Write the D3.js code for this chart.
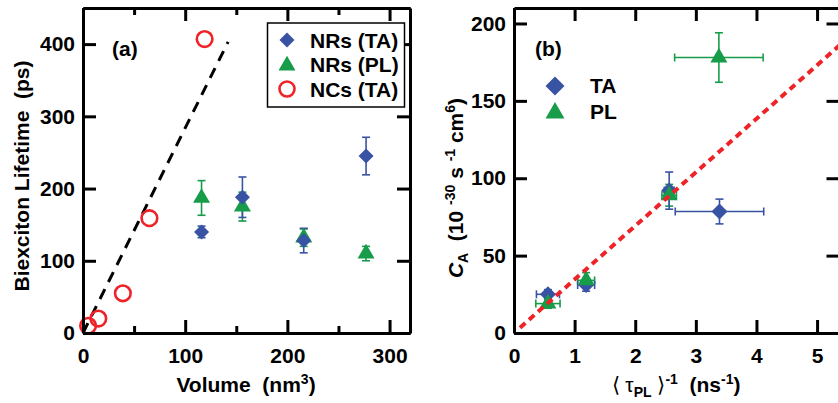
<!DOCTYPE html>
<html>
<head>
<meta charset="utf-8">
<script src="https://cdn.jsdelivr.net/npm/d3@7"></script>
<style>
  body { margin: 0; background: #fff; }
  text { font-family: "Liberation Sans", Arial, Helvetica, sans-serif; font-weight: bold; fill: #000; }
</style>
</head>
<body>
<svg id="chart" width="838" height="403"></svg>
<script>
// ---- Panel (a): biexciton lifetime vs. volume ----
const nrVolume = [116, 156, 216, 277];
const nrTaLifetime = [140, 188, 128, 245];
const nrTaError = [8, 28, 17, 26];
const nrPlLifetime = [187, 175, 132, 110];
const nrPlError = [24, 20, 12, 10];
const ncVolume = [5, 15, 39, 65, 119];
const ncLifetime = [10, 20, 55, 159, 407];
const volumeFit = [0, 142];
const lifetimeFit = [0, 403];
const volumeTicks = [0, 100, 200, 300];
const volumeMinorTicks = [50, 150, 250];
const lifetimeTicks = [0, 100, 200, 300, 400];
const legendA = ["NRs (TA)", "NRs (PL)", "NCs (TA)"];

// ---- Panel (b): Auger constant vs. inverse PL lifetime ----
const taRate = [0.56, 1.19, 2.56, 3.39];
const taRateError = [0.19, 0.14, 0.08, 0.73];
const taCa = [25, 31, 92, 78.5];
const taCaError = [3, 4, 12, 8];
const plRate = [0.56, 1.19, 2.56, 3.38];
const plRateError = [0.2, 0.14, 0.12, 0.73];
const plCa = [19, 34, 89, 178];
const plCaError = [3, 5, 7, 16];
const rateFit = [0.1, 5.6];
const caFit = [3.46, 193.8];
const rateTicks = [0, 1, 2, 3, 4, 5];
const caTicks = [0, 50, 100, 150, 200];
const legendB = ["TA", "PL"];

const BLUE = "#3953a4", GREEN = "#179c4a", RED = "#ee2227";
const svg = d3.select("#chart");

function diamondPath(r) { return `M0,${-r}L${r},0L0,${r}L${-r},0Z`; }
function trianglePath(w) {
  const h = w * Math.sqrt(3) / 2;
  return `M0,${-2 * h / 3}L${w / 2},${h / 3}L${-w / 2},${h / 3}Z`;
}

function frame(g, x, y, opts) {
  const [x0, x1] = x.range(), [y0, y1] = y.range();
  const styleAxis = sel => {
    sel.select(".domain").attr("stroke", "#000").attr("stroke-width", 3);
    sel.selectAll(".tick line").attr("stroke", "#000").attr("stroke-width", 3);
    sel.selectAll(".tick text").style("font-size", "21px").attr("fill", "#000");
  };
  g.append("g").attr("transform", `translate(0,${y0})`)
    .call(d3.axisBottom(x).tickValues(opts.xTicks).tickSize(-13).tickSizeOuter(0).tickPadding(15).tickFormat(d3.format("d")))
    .call(styleAxis);
  g.append("g").attr("transform", `translate(0,${y1})`)
    .call(d3.axisTop(x).tickValues(opts.xTicks).tickSize(-13).tickSizeOuter(0).tickFormat(""))
    .call(styleAxis);
  if (opts.xMinor) {
    [y0, y1].forEach((yy, i) => {
      g.append("g").attr("transform", `translate(0,${yy})`)
        .call((i ? d3.axisTop(x) : d3.axisBottom(x)).tickValues(opts.xMinor).tickSize(-7).tickSizeOuter(0).tickFormat(""))
        .call(styleAxis);
    });
  }
  g.append("g").attr("transform", `translate(${x0},0)`)
    .call(d3.axisLeft(y).tickValues(opts.yTicks).tickSize(-13).tickSizeOuter(0).tickPadding(8).tickFormat(d3.format("d")))
    .call(styleAxis);
  g.append("g").attr("transform", `translate(${x1},0)`)
    .call(d3.axisRight(y).tickValues(opts.yTicks).tickSize(-13).tickSizeOuter(0).tickFormat(""))
    .call(styleAxis);
}

function vErrors(g, xs, ys, es, x, y, color) {
  xs.forEach((v, i) => {
    const cx = x(v), ya = y(ys[i] - es[i]), yb = y(ys[i] + es[i]);
    g.append("line").attr("x1", cx).attr("x2", cx).attr("y1", ya).attr("y2", yb);
    g.append("line").attr("x1", cx - 4).attr("x2", cx + 4).attr("y1", ya).attr("y2", ya);
    g.append("line").attr("x1", cx - 4).attr("x2", cx + 4).attr("y1", yb).attr("y2", yb);
  });
  g.attr("stroke", color).attr("stroke-width", 1.6);
}
function hErrors(g, xs, ys, es, x, y, color) {
  xs.forEach((v, i) => {
    const cy = y(ys[i]), xa = x(v - es[i]), xb = x(v + es[i]);
    g.append("line").attr("x1", xa).attr("x2", xb).attr("y1", cy).attr("y2", cy);
    g.append("line").attr("x1", xa).attr("x2", xa).attr("y1", cy - 4).attr("y2", cy + 4);
    g.append("line").attr("x1", xb).attr("x2", xb).attr("y1", cy - 4).attr("y2", cy + 4);
  });
  g.attr("stroke", color).attr("stroke-width", 1.6);
}

// ===================== Panel (a) =====================
const xA = d3.scaleLinear().domain([0, 320]).range([83, 410]);
const yA = d3.scaleLinear().domain([0, 450]).range([333, 8]);
const gA = svg.append("g");

// dashed guide through the nanocrystal points
gA.append("path")
  .attr("d", d3.line()(volumeFit.map((v, i) => [xA(v), yA(lifetimeFit[i])])))
  .attr("stroke", "#000").attr("stroke-width", 3).attr("stroke-dasharray", "11,8").attr("fill", "none");

vErrors(gA.append("g"), nrVolume, nrPlLifetime, nrPlError, xA, yA, GREEN);
vErrors(gA.append("g"), nrVolume, nrTaLifetime, nrTaError, xA, yA, BLUE);

gA.append("g").selectAll("path").data(nrVolume).join("path")
  .attr("d", trianglePath(17))
  .attr("transform", (d, i) => `translate(${xA(d)},${yA(nrPlLifetime[i])})`)
  .attr("fill", GREEN);
gA.append("g").selectAll("path").data(nrVolume).join("path")
  .attr("d", diamondPath(7.5))
  .attr("transform", (d, i) => `translate(${xA(d)},${yA(nrTaLifetime[i])})`)
  .attr("fill", BLUE);
gA.append("g").selectAll("circle").data(ncVolume).join("circle")
  .attr("cx", d => xA(d)).attr("cy", (d, i) => yA(ncLifetime[i]))
  .attr("r", 7.8).attr("fill", "none").attr("stroke", RED).attr("stroke-width", 2.6);

frame(gA, xA, yA, { xTicks: volumeTicks, xMinor: volumeMinorTicks, yTicks: lifetimeTicks });

gA.append("text").attr("x", 112).attr("y", 56).style("font-size", "21px").text("(a)");

// legend
const legA = gA.append("g");
legA.append("rect").attr("x", 267.5).attr("y", 23).attr("width", 137).attr("height", 84)
  .attr("fill", "#fff").attr("stroke", "#000").attr("stroke-width", 1.5);
const legRows = [40, 64.5, 89];
legA.append("path").attr("d", diamondPath(7.5)).attr("transform", `translate(287,${legRows[0]})`).attr("fill", BLUE);
legA.append("path").attr("d", trianglePath(17)).attr("transform", `translate(287,${legRows[1] + 1})`).attr("fill", GREEN);
legA.append("circle").attr("cx", 287).attr("cy", legRows[2]).attr("r", 7.5)
  .attr("fill", "none").attr("stroke", RED).attr("stroke-width", 2.6);
legendA.forEach((t, i) => {
  legA.append("text").attr("x", 310).attr("y", legRows[i] + 7.5).style("font-size", "21px").text(t);
});

// axis titles
gA.append("text").attr("transform", "translate(29,176) rotate(-90)").attr("text-anchor", "middle")
  .style("font-size", "21px").style("white-space", "pre").text("Biexciton Lifetime  (ps)");
const tA = gA.append("text").attr("x", 246).attr("y", 392).attr("text-anchor", "middle")
  .style("font-size", "21px").style("white-space", "pre");
tA.append("tspan").text("Volume  (nm");
tA.append("tspan").attr("dy", -8).style("font-size", "14px").text("3");
tA.append("tspan").attr("dy", 8).text(")");

// ===================== Panel (b) =====================
const xB = d3.scaleLinear().domain([0, 5.37]).range([514, 839.5]);
const yB = d3.scaleLinear().domain([0, 210]).range([333, 8]);
const gB = svg.append("g");

svg.append("defs").append("clipPath").attr("id", "clipB")
  .append("rect").attr("x", 514).attr("y", 8).attr("width", 326).attr("height", 325);

hErrors(gB.append("g"), plRate, plCa, plRateError, xB, yB, GREEN);
vErrors(gB.append("g"), plRate, plCa, plCaError, xB, yB, GREEN);
hErrors(gB.append("g"), taRate, taCa, taRateError, xB, yB, BLUE);
vErrors(gB.append("g"), taRate, taCa, taCaError, xB, yB, BLUE);

gB.append("g").selectAll("path").data(taRate).join("path")
  .attr("d", diamondPath(8))
  .attr("transform", (d, i) => `translate(${xB(d)},${yB(taCa[i])})`)
  .attr("fill", BLUE);
gB.append("g").selectAll("path").data(plRate).join("path")
  .attr("d", trianglePath(17))
  .attr("transform", (d, i) => `translate(${xB(d)},${yB(plCa[i])})`)
  .attr("fill", GREEN);

// linear fit
gB.append("path").attr("clip-path", "url(#clipB)")
  .attr("d", d3.line()(rateFit.map((v, i) => [xB(v), yB(caFit[i])])))
  .attr("stroke", RED).attr("stroke-width", 4).attr("stroke-dasharray", "7,5").attr("fill", "none");

frame(gB, xB, yB, { xTicks: rateTicks, yTicks: caTicks });

gB.append("text").attr("x", 535).attr("y", 56).style("font-size", "21px").text("(b)");

// legend
gB.append("path").attr("d", diamondPath(9.5)).attr("transform", "translate(555,86)").attr("fill", BLUE);
gB.append("path").attr("d", trianglePath(19)).attr("transform", "translate(555,113)").attr("fill", GREEN);
legendB.forEach((t, i) => {
  gB.append("text").attr("x", 590).attr("y", 93 + i * 26).style("font-size", "21px").text(t);
});

// axis titles
const tB = gB.append("text").attr("transform", "translate(463,188) rotate(-90)").attr("text-anchor", "middle")
  .style("font-size", "21px").style("white-space", "pre");
tB.append("tspan").style("font-style", "italic").text("C");
tB.append("tspan").attr("dy", 5).style("font-size", "14px").text("A");
tB.append("tspan").attr("dy", -5).text("  (10 ");
tB.append("tspan").attr("dy", -8).style("font-size", "14px").text("-30");
tB.append("tspan").attr("dy", 8).text(" s ");
tB.append("tspan").attr("dy", -8).style("font-size", "14px").text("-1");
tB.append("tspan").attr("dy", 8).text(" cm");
tB.append("tspan").attr("dy", -8).style("font-size", "14px").text("6");
tB.append("tspan").attr("dy", 8).text(")");

const xtB = gB.append("text").attr("x", 676).attr("y", 392).attr("text-anchor", "middle")
  .style("font-size", "21px").style("white-space", "pre");
xtB.append("tspan").style("font-weight", "normal").text("\u27E8 ");
xtB.append("tspan").style("font-weight", "normal").text("\u03C4");
xtB.append("tspan").attr("dy", 5).style("font-size", "14px").text("PL");
xtB.append("tspan").attr("dy", -5).style("font-weight", "normal").text(" \u27E9");
xtB.append("tspan").attr("dy", -8).style("font-size", "14px").text("-1");
xtB.append("tspan").attr("dy", 8).text("  (ns");
xtB.append("tspan").attr("dy", -8).style("font-size", "14px").text("-1");
xtB.append("tspan").attr("dy", 8).text(")");
</script>
</body>
</html>
